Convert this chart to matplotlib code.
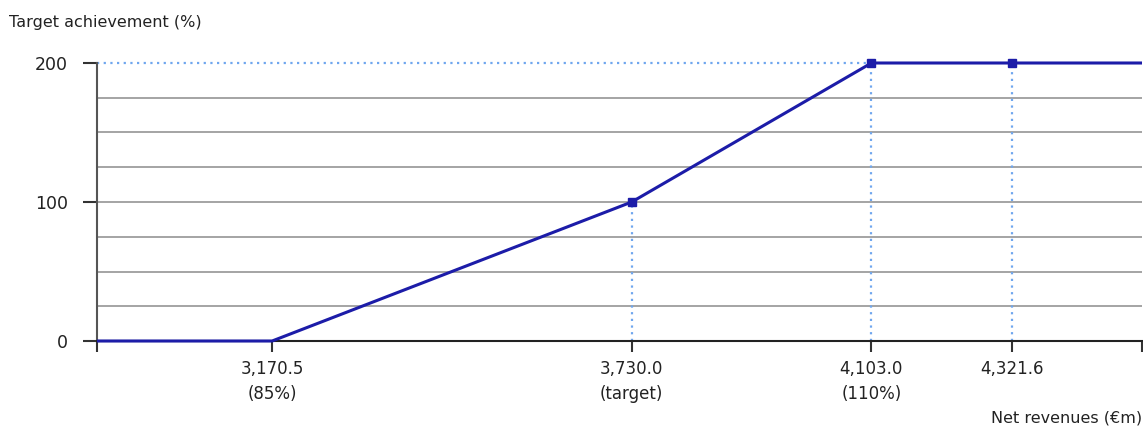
import matplotlib
matplotlib.use("Agg")
import matplotlib.pyplot as plt

# ---- data ----
revenue = [2898.0, 3170.5, 3730.0, 4103.0, 4321.6, 4524.0]
achievement = [0, 0, 100, 200, 200, 200]
marker_revenue = [3730.0, 4103.0, 4321.6]
marker_achievement = [100, 200, 200]
tick_values = [2898.0, 3170.5, 3730.0, 4103.0, 4321.6, 4524.0]
tick_labels = ["", "3,170.5\n(85%)", "3,730.0\n(target)", "4,103.0\n(110%)", "4,321.6", ""]
y_ticks = [0, 100, 200]
y_grid = [25, 50, 75, 100, 125, 150, 175]
y_title = "Target achievement (%)"
x_title = "Net revenues (€m)"

plt.rcParams['font.family'] = ['DejaVu Sans']

LINE = "#1c1ca8"
DOT = "#6fa6ee"
GRID = "#959595"
TXT = "#222222"

fig = plt.figure(figsize=(11.43, 4.26), dpi=100)
ax = fig.add_axes([97 / 1143, 1 - 341 / 426, (1142 - 97) / 1143, (341 - 63) / 426])

ax.set_xlim(revenue[0], revenue[-1])
ax.set_ylim(0, 200)

for g in y_grid:
    ax.axhline(g, color=GRID, lw=1.2, zorder=1)

# dotted reference lines
ax.plot([revenue[0], marker_revenue[1]], [200, 200], color=DOT, lw=1.6,
        linestyle=(0, (1, 2)), zorder=2, clip_on=False)
for xv, yv in zip(marker_revenue, marker_achievement):
    ax.plot([xv, xv], [0, yv], color=DOT, lw=1.6, linestyle=(0, (1, 2)), zorder=2)

ax.plot(revenue, achievement, color=LINE, lw=2.2, zorder=4, clip_on=False,
        solid_capstyle='butt')
ax.plot(marker_revenue, marker_achievement, linestyle='none', marker='s',
        markersize=6, color=LINE, zorder=5, clip_on=False)

for s in ['top', 'right']:
    ax.spines[s].set_visible(False)
ax.spines['left'].set_color('#555555')
ax.spines['left'].set_linewidth(1.5)
ax.spines['bottom'].set_color('#222222')
ax.spines['bottom'].set_linewidth(1.5)
ax.spines['bottom'].set_zorder(3)

ax.set_yticks(y_ticks)
ax.set_yticklabels([str(v) for v in y_ticks])
ax.tick_params(axis='y', length=10, width=1.5, color='#333333', pad=11,
               labelsize=12.5, labelcolor=TXT)
ax.set_xticks(tick_values)
ax.set_xticklabels(tick_labels, linespacing=1.45)
ax.tick_params(axis='x', length=8, width=1.5, color='#333333', pad=6,
               labelsize=12, labelcolor=TXT)

fig.text(9 / 1143, 1 - 22 / 426, y_title, ha='left', va='center',
         fontsize=11.5, color=TXT)
fig.text(1142 / 1143, 1 - 418 / 426, x_title, ha='right', va='center',
         fontsize=11.5, color=TXT)

fig.savefig("out.png", dpi=100)
